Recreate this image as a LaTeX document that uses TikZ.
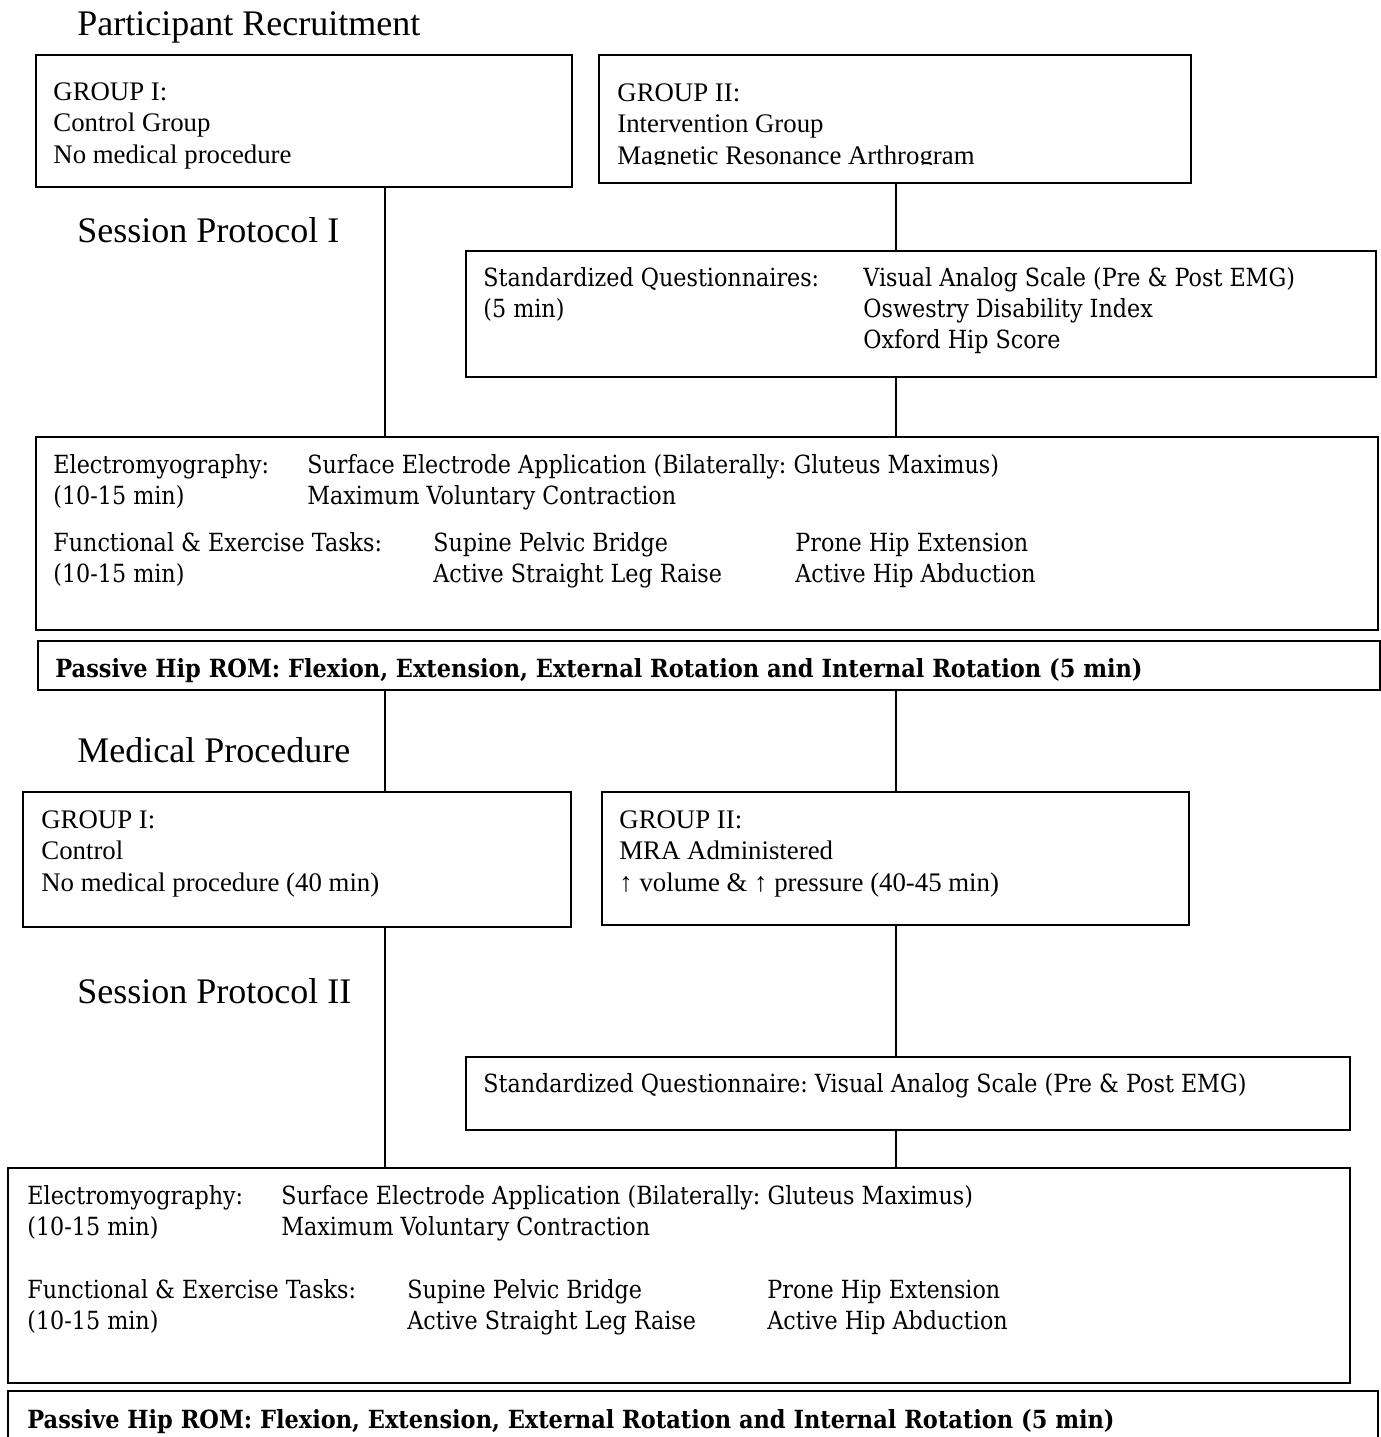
\documentclass[tikz,border=0pt]{standalone}
\usepackage{fontspec}
\setmainfont{Liberation Serif}
\newfontfamily\cambria{DejaVu Serif}[FakeStretch=0.89]
\newfontfamily\cambriabold{DejaVu Serif Bold}[FakeStretch=0.9]
\usetikzlibrary{fit}

\tikzset{
  box/.style={draw, line width=1pt, inner sep=0pt},
  link/.style={line width=1pt},
  grptext/.style={anchor=north west, inner sep=0pt, align=left, font=\fontsize{13.4}{15.75}\selectfont},
  tasktext/.style={anchor=north west, inner sep=0pt, align=left, font=\cambria\fontsize{12.5}{15.5}\selectfont},
  headtext/.style={anchor=base west, inner sep=0pt, font=\fontsize{18}{21}\selectfont},
  romtext/.style={anchor=base west, inner sep=0pt, font=\cambriabold\fontsize{12.5}{15}\selectfont}
}

\begin{document}
\frenchspacing
\begin{tikzpicture}[x=0.5pt, y=-0.5pt]
    \useasboundingbox (0,0) rectangle (1381,1437);

    %%%%% COLUMNS %%%%%
    \coordinate (colA) at (385,0);
    \coordinate (colB) at (896,0);

    %%%%% HEADINGS %%%%%
    \node[headtext] (hRecruit) at (77,35) {Participant Recruitment};
    \node[headtext] (hSessI) at (77,242) {Session Protocol I};
    \node[headtext] (hMed) at (77,762) {Medical Procedure};
    \node[headtext] (hSessII) at (77,1003) {Session Protocol II};

    %%%%% SESSION I %%%%%
    \node[box, fit={(36,55) (572,187)}] (grpA) {};
    \node[grptext] (grpAtxt) at (53,78) {\strut GROUP I:\\Control Group\\No medical procedure};

    \node[box, fit={(599,55) (1191,183)}] (grpB) {};
    \begin{scope}
      \clip (601,57) rectangle (1189,164);
      \node[grptext] (grpBtxt) at (617,79) {\strut GROUP II:\\Intervention Group\\Magnetic Resonance Arthrogram};
    \end{scope}

    \node[box, fit={(466,251) (1376,377)}] (quesA) {};
    \node[tasktext] (quesAl) at (483,264.3) {\strut Standardized Questionnaires:\\(5 min)};
    \node[tasktext] (quesAr) at (863,264.3) {\strut Visual Analog Scale (Pre \& Post EMG)\\Oswestry Disability Index\\Oxford Hip Score};

    \node[box, fit={(36,437) (1378,630)}] (emgA) {};
    \node[tasktext] (emgAl) at (53,451.3) {\strut Electromyography:\\(10-15 min)};
    \node[tasktext] (emgAr) at (307,451.3) {\strut Surface Electrode Application (Bilaterally: Gluteus Maximus)\\Maximum Voluntary Contraction};
    \node[tasktext] (taskAl) at (53,529.3) {\strut Functional \& Exercise Tasks:\\(10-15 min)};
    \node[tasktext] (taskAm) at (433,529.3) {\strut Supine Pelvic Bridge\\Active Straight Leg Raise};
    \node[tasktext] (taskAr) at (795,529.3) {\strut Prone Hip Extension\\Active Hip Abduction};

    \node[box, fit={(38,641) (1380,690)}] (romA) {};
    \node[romtext] (romAtxt) at (55,677) {Passive Hip ROM: Flexion, Extension, External Rotation and Internal Rotation (5 min)};

    %%%%% MEDICAL PROCEDURE %%%%%
    \node[box, fit={(23,792) (571,927)}] (medA) {};
    \node[grptext] (medAtxt) at (41,806) {\strut GROUP I:\\Control\\No medical procedure (40 min)};

    \node[box, fit={(602,792) (1189,925)}] (medB) {};
    \node[grptext] (medBtxt) at (619,806) {\strut GROUP II:\\MRA Administered\\↑ volume \& ↑ pressure (40-45 min)};

    %%%%% SESSION II %%%%%
    \node[box, fit={(466,1057) (1350,1130)}] (quesB) {};
    \node[tasktext, anchor=base west] (quesBtxt) at (483,1092) {Standardized Questionnaire: Visual Analog Scale (Pre \& Post EMG)};

    \node[box, fit={(8,1168) (1350,1383)}] (emgB) {};
    \node[tasktext] (emgBl) at (27,1182.3) {\strut Electromyography:\\(10-15 min)};
    \node[tasktext] (emgBr) at (281,1182.3) {\strut Surface Electrode Application (Bilaterally: Gluteus Maximus)\\Maximum Voluntary Contraction};
    \node[tasktext] (taskBl) at (27,1276.3) {\strut Functional \& Exercise Tasks:\\(10-15 min)};
    \node[tasktext] (taskBm) at (407,1276.3) {\strut Supine Pelvic Bridge\\Active Straight Leg Raise};
    \node[tasktext] (taskBr) at (767,1276.3) {\strut Prone Hip Extension\\Active Hip Abduction};

    \node[box, fit={(8,1391) (1378,1460)}] (romB) {};
    \node[romtext] (romBtxt) at (27,1428) {Passive Hip ROM: Flexion, Extension, External Rotation and Internal Rotation (5 min)};

    %%%%% LINKS %%%%%
    \draw[link] (grpA.south -| colA) -- (emgA.north -| colA);
    \draw[link] (grpB.south -| colB) -- (quesA.north -| colB);
    \draw[link] (quesA.south -| colB) -- (emgA.north -| colB);
    \draw[link] (romA.south -| colA) -- (medA.north -| colA);
    \draw[link] (romA.south -| colB) -- (medB.north -| colB);
    \draw[link] (medA.south -| colA) -- (emgB.north -| colA);
    \draw[link] (medB.south -| colB) -- (quesB.north -| colB);
    \draw[link] (quesB.south -| colB) -- (emgB.north -| colB);
\end{tikzpicture}
\end{document}
